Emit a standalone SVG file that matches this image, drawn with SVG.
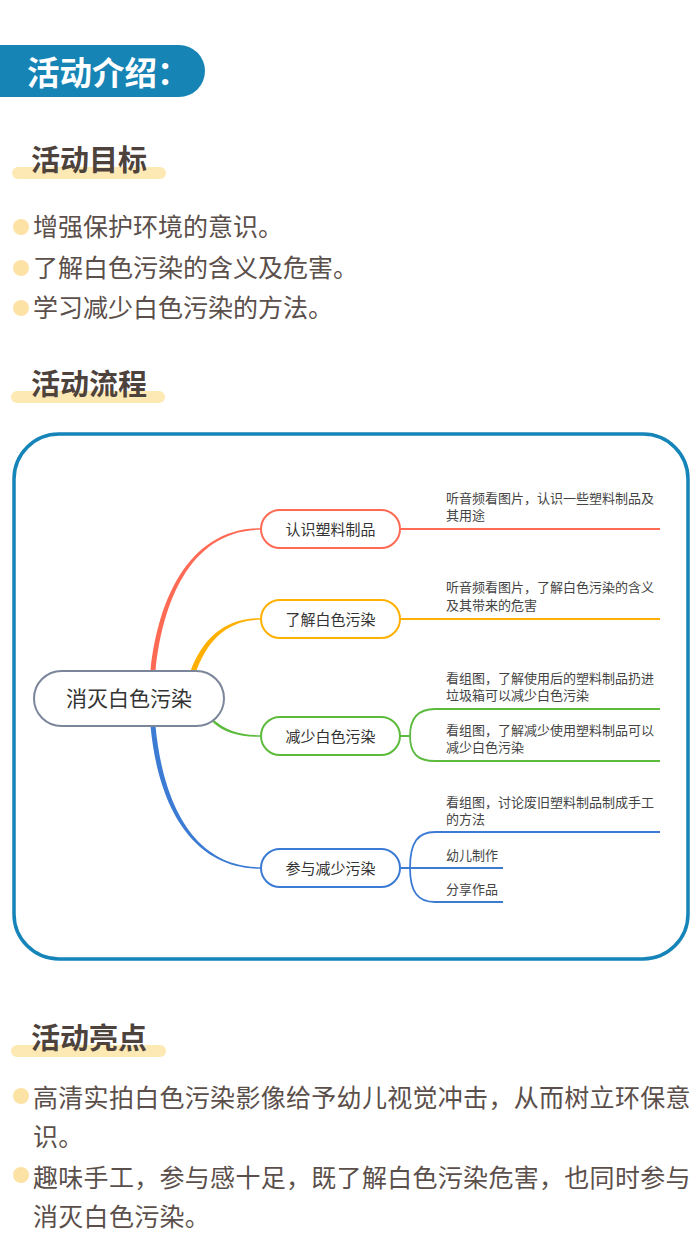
<svg xmlns="http://www.w3.org/2000/svg" width="700" height="1258" viewBox="0 0 700 1258">
<style>
.title{font-family:"Noto Sans CJK SC",sans-serif;font-weight:700;font-size:29px;fill:#4e423d}
.bar{fill:#fde9b3}
.dot{fill:#fde2a5}
.body{font-family:"Noto Sans CJK SC",sans-serif;font-size:25px;fill:#5b4f4b}
.wide{letter-spacing:0.3px}
.mm{font-family:"Noto Sans CJK SC","Liberation Sans",sans-serif;fill:#333}
.lbl{font-size:15px;text-anchor:middle}
.leaf{font-size:13px;fill:#444}
.box{fill:#fff;stroke-width:2}
.sub{fill:none;stroke-width:1.8}
</style>
<rect width="700" height="1258" fill="#fff"/>
<g id="header">
<path d="M0,45 H179 A26,26 0 0 1 179,97 H0 Z" fill="#1784b6"/>
<text x="27" y="85" font-family="Noto Sans CJK SC,sans-serif" font-weight="700" font-size="32.5" fill="#fff">活动介绍：</text>
</g>
<g id="goals">
<rect class="bar" x="12" y="167" width="154" height="12" rx="6"/>
<text class="title" x="31" y="171">活动目标</text>
<circle class="dot" cx="21" cy="227" r="8"/>
<circle class="dot" cx="21" cy="268" r="8"/>
<circle class="dot" cx="21" cy="308" r="8"/>
<text class="body" x="33" y="236">增强保护环境的意识。</text>
<text class="body" x="33" y="277">了解白色污染的含义及危害。</text>
<text class="body" x="33" y="317">学习减少白色污染的方法。</text>
</g>
<g id="flow-title">
<rect class="bar" x="11" y="391" width="154" height="12" rx="6"/>
<text class="title" x="31" y="395">活动流程</text>
</g>
<rect id="frame" x="14" y="434" width="674" height="525" rx="45" fill="none" stroke="#1584b8" stroke-width="3.5"/>
<g id="connectors">
<path d="M150.5,671 C158,599 189,528.2 261,528.2 L261,529.8 C191,529.8 162.5,601 155.5,671 Z" fill="#ff6a55"/>
<path d="M190.5,671 C203,638.5 224,618.2 261,618.2 L261,619.8 C226,619.8 207,641.5 195.5,673 Z" fill="#ffb000"/>
<path d="M212,718.5 C225.5,730.5 240,735.2 261,735.2 L261,736.8 C240,736.8 224.5,733.5 212,721.5 Z" fill="#5cbb3d"/>
<path d="M150.5,726 C157.5,801 189,868.8 261,868.8 L261,867.2 C191,867.2 162.5,799 155.5,726 Z" fill="#3b7bd4"/>
<path class="sub" stroke="#ff6a55" d="M400,529 H660"/>
<path class="sub" stroke="#ffb000" d="M400,619 H660"/>
<path class="sub" stroke="#5cbb3d" d="M400,736 H410 M410,736 C410,718 418,709 435,709 H660 M410,736 C410,754 418,761 435,761 H660"/>
<path class="sub" stroke="#3b7bd4" d="M400,868 H503 M410,868 C410,842 418,832 435,832 H660 M410,868 C410,892 418,902 435,902 H503"/>
</g>
<g id="root">
<rect class="box" x="34" y="671" width="190" height="55" rx="27.5" stroke="#7b869a"/>
<text class="mm" x="129" y="706" font-size="21" text-anchor="middle">消灭白色污染</text>
</g>
<g id="b1">
<rect class="box" x="261" y="510" width="139" height="38" rx="19" stroke="#ff6a55"/>
<text class="mm lbl" x="330.5" y="534.5">认识塑料制品</text>
<text class="mm leaf" x="446" y="503">听音频看图片，认识一些塑料制品及</text>
<text class="mm leaf" x="446" y="520">其用途</text>
</g>
<g id="b2">
<rect class="box" x="261" y="600" width="139" height="38" rx="19" stroke="#ffb000"/>
<text class="mm lbl" x="330.5" y="624.5">了解白色污染</text>
<text class="mm leaf" x="446" y="592">听音频看图片，了解白色污染的含义</text>
<text class="mm leaf" x="446" y="610">及其带来的危害</text>
</g>
<g id="b3">
<rect class="box" x="261" y="717" width="139" height="38" rx="19" stroke="#5cbb3d"/>
<text class="mm lbl" x="330.5" y="741.5">减少白色污染</text>
<text class="mm leaf" x="446" y="683">看组图，了解使用后的塑料制品扔进</text>
<text class="mm leaf" x="446" y="700">垃圾箱可以减少白色污染</text>
<text class="mm leaf" x="446" y="735">看组图，了解减少使用塑料制品可以</text>
<text class="mm leaf" x="446" y="752">减少白色污染</text>
</g>
<g id="b4">
<rect class="box" x="261" y="849" width="139" height="38" rx="19" stroke="#3b7bd4"/>
<text class="mm lbl" x="330.5" y="873.5">参与减少污染</text>
<text class="mm leaf" x="446" y="807">看组图，讨论废旧塑料制品制成手工</text>
<text class="mm leaf" x="446" y="824">的方法</text>
<text class="mm leaf" x="446" y="860">幼儿制作</text>
<text class="mm leaf" x="446" y="894">分享作品</text>
</g>
<g id="highlights">
<rect class="bar" x="11" y="1045" width="155" height="12" rx="6"/>
<text class="title" x="31" y="1049">活动亮点</text>
<circle class="dot" cx="21" cy="1096" r="8"/>
<circle class="dot" cx="21" cy="1175" r="8"/>
<text class="body wide" x="33" y="1107">高清实拍白色污染影像给予幼儿视觉冲击，从而树立环保意</text>
<text class="body wide" x="33" y="1146">识。</text>
<text class="body wide" x="33" y="1187">趣味手工，参与感十足，既了解白色污染危害，也同时参与</text>
<text class="body wide" x="33" y="1226">消灭白色污染。</text>
</g>
</svg>
